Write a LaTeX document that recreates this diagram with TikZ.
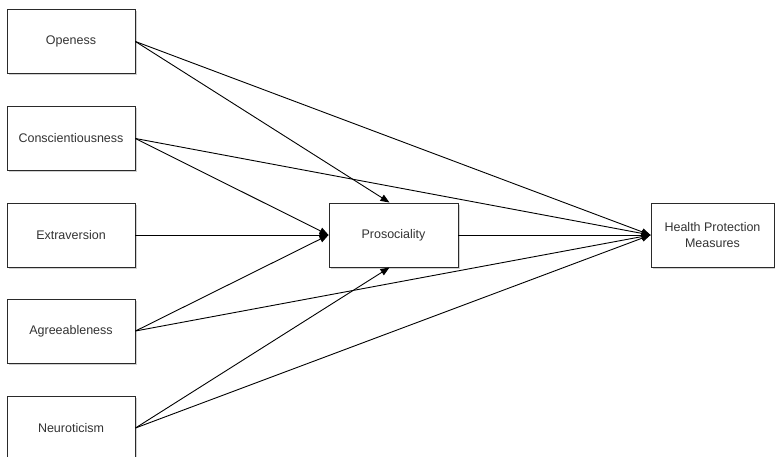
\documentclass[tikz,border=0pt]{standalone}
\usepackage{fontspec}
\setmainfont{Liberation Sans}
\usetikzlibrary{arrows.meta,shadows}
\definecolor{txt}{HTML}{333333}
\definecolor{edge}{HTML}{2A2A2A}
\tikzset{
  box/.style={draw=edge, line width=0.9pt, fill=white, text=txt, font=\fontsize{12.5}{16}\selectfont,
    align=center, inner sep=0pt,
    drop shadow={shadow xshift=1.8pt, shadow yshift=-1.8pt, fill=black!30, opacity=0.6}},
  conn/.style={draw=black, line width=0.9pt, -{Triangle[length=9pt,width=7pt]}}
}
\begin{document}
\begin{tikzpicture}[x=1pt,y=-1pt]
\useasboundingbox (0,0) rectangle (775,456);
\clip (0,0) rectangle (775,456);
\node[box, minimum width=128pt, minimum height=64pt] (o) at (71,41.5) {Openess};
\node[box, minimum width=128pt, minimum height=64pt] (c) at (71,138.5) {Conscientiousness};
\node[box, minimum width=128pt, minimum height=64pt] (e) at (71,235) {Extraversion};
\node[box, minimum width=128pt, minimum height=64pt] (a) at (71,331) {Agreeableness};
\node[box, minimum width=128pt, minimum height=64pt] (n) at (71,428) {Neuroticism};
\node[box, minimum width=129pt, minimum height=64pt] (p) at (393.5,235) {Prosociality};
\node[box, minimum width=123pt, minimum height=64pt] (h) at (712.5,235) {Health Protection\\Measures};
\coordinate (pt) at ([xshift=-4pt]p.north);
\coordinate (pb) at ([xshift=-4pt]p.south);
\draw[conn] (o.east) -- (pt);
\draw[conn] (o.east) -- (h.west);
\draw[conn] (c.east) -- (p.west);
\draw[conn] (c.east) -- (h.west);
\draw[conn] (e.east) -- (p.west);
\draw[conn] (a.east) -- (p.west);
\draw[conn] (a.east) -- (h.west);
\draw[conn] (n.east) -- (pb);
\draw[conn] (n.east) -- (h.west);
\draw[conn] (p.east) -- (h.west);
\end{tikzpicture}
\end{document}
